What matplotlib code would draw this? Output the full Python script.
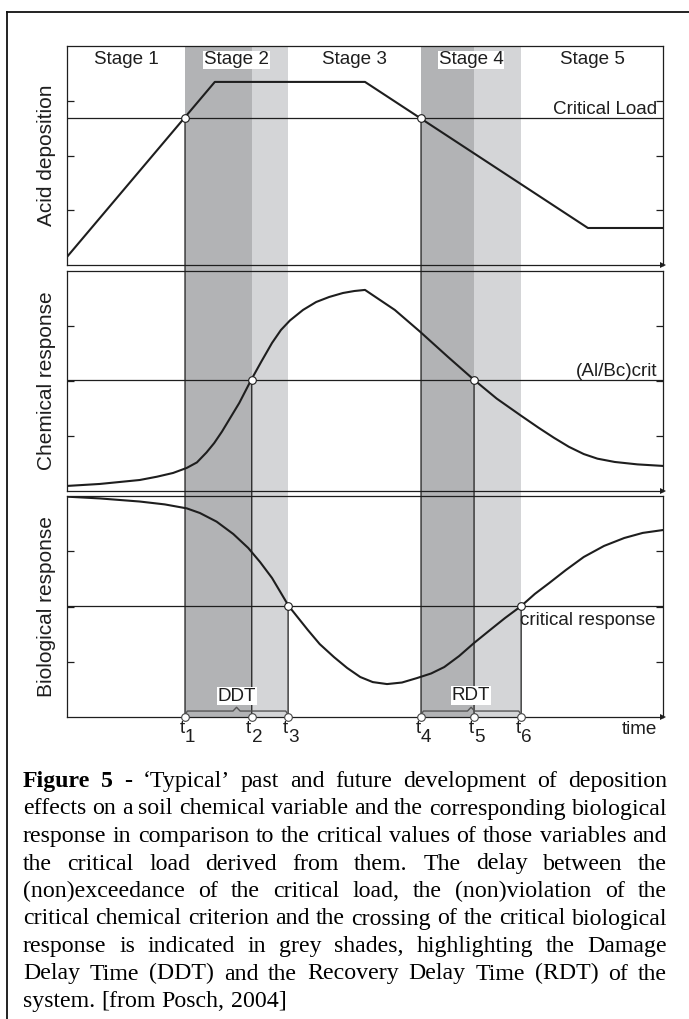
import matplotlib
matplotlib.use("Agg")
import matplotlib.pyplot as plt
from matplotlib.patches import ConnectionPatch
from matplotlib.lines import Line2D

# ---------------- data (time axis 0..100, each panel value axis 0..100) -------------
time_dep = [0, 24.8, 50.0, 87.4, 100]
deposition = [3.7, 83.6, 83.6, 16.9, 16.9]
critical_load = 67.1

time_chem = [0, 5.5, 12.2, 15.1, 17.8, 20.1, 21.8, 23.4, 24.7, 26.0, 28.9, 30.9,
             32.6, 34.4, 35.9, 37.4, 39.6, 41.8, 44.0, 46.3, 48.2, 50.0, 55.0,
             59.2, 63.9, 68.3, 72.1, 76.2, 79.1, 81.7, 84.2, 86.7, 89.0, 91.9,
             95.7, 100]
chem = [2.3, 3.2, 5.0, 6.5, 8.2, 10.5, 13.0, 17.5, 21.8, 27.0, 40.0, 50.5,
        58.8, 67.3, 73.2, 77.5, 82.3, 85.9, 88.2, 90.0, 90.9, 91.4, 82.3,
        72.5, 61.0, 50.5, 42.0, 34.2, 28.8, 24.2, 20.1, 16.8, 14.7, 13.2,
        12.1, 11.4]
chem_crit = 50.5

time_bio = [0, 5.5, 12.2, 16.4, 20.1, 22.3, 25.1, 27.9, 30.4, 32.4, 34.4, 37.2,
            40.4, 42.4, 44.8, 47.0, 49.2, 51.3, 53.7, 56.2, 58.7, 61.1, 63.3,
            65.8, 68.3, 71.0, 73.5, 76.2, 78.5, 80.9, 83.7, 86.7, 90.1, 93.5,
            96.6, 100]
bio = [99.7, 98.9, 97.5, 96.2, 94.4, 92.3, 88.4, 82.8, 76.5, 70.1, 62.9, 50.2,
       39.4, 33.0, 27.1, 22.2, 18.1, 15.8, 14.9, 15.6, 17.6, 19.7, 22.6,
       27.6, 33.5, 39.4, 44.8, 50.2, 55.7, 60.6, 66.5, 72.4, 77.4, 81.0,
       83.3, 84.6]
bio_crit = 50.2

t_marks = [19.8, 31.0, 37.1, 59.4, 68.3, 76.2]
t_subs = ["1", "2", "3", "4", "5", "6"]
stage_labels = ["Stage 1", "Stage 2", "Stage 3", "Stage 4", "Stage 5"]
ylabels = ["Acid deposition", "Chemical response", "Biological response"]
value_ticks = [25, 50, 75]

caption_lines = [
    "Figure 5 - \u2018Typical\u2019 past and future development of deposition",
    "effects on a soil chemical variable and the corresponding biological",
    "response in comparison to the critical values of those variables and",
    "the critical load derived from them. The delay between the",
    "(non)exceedance of the critical load, the (non)violation of the",
    "critical chemical criterion and the crossing of the critical biological",
    "response is indicated in grey shades, highlighting the Damage",
    "Delay Time (DDT) and the Recovery Delay Time (RDT) of the",
    "system. [from Posch, 2004]",
]

# ---------------- styling ----------------
plt.rcParams["font.family"] = ["Liberation Sans", "DejaVu Sans"]
INK = "#1e1e1e"
DARK = "#b2b3b5"
LIGHT = "#d4d5d7"
SANS_FS = 13.6
YLAB_FS = 15.0

W, H = 689, 1019
fig = plt.figure(figsize=(W / 100, H / 100), dpi=100)


def fx(px):
    return px / W


def fy(py):
    return 1 - py / H


PL, PR = 67, 663


def panel(top, bottom):
    ax = fig.add_axes([fx(PL), fy(bottom), (PR - PL) / W, (bottom - top) / H], zorder=1)
    ax.set_xlim(0, 100)
    ax.set_ylim(0, 100)
    ax.set_facecolor("none")
    ax.set_xticks([])
    ax.set_yticks(value_ticks)
    ax.set_yticklabels([])
    ax.tick_params(axis="y", direction="in", left=True, right=True, length=5,
                   width=0.9, color=INK)
    for s in ax.spines.values():
        s.set_linewidth(0.9)
        s.set_color(INK)
    ax.plot([1], [0], marker=">", transform=ax.transAxes, clip_on=False,
            ms=5, color=INK, mew=0)
    return ax


ax1 = panel(46, 265)
ax2 = panel(271, 491)
ax3 = panel(496, 717)

# background axes for the grey bands spanning all panels
bg = fig.add_axes([fx(PL), fy(717), (PR - PL) / W, (717 - 46) / H], zorder=0)
bg.set_xlim(0, 100)
bg.set_ylim(0, 1)
bg.axis("off")
t1, t2, t3, t4, t5, t6 = t_marks
bg.axvspan(t1, t2, color=DARK, lw=0)
bg.axvspan(t2, t3, color=LIGHT, lw=0)
bg.axvspan(t4, t5, color=DARK, lw=0)
bg.axvspan(t5, t6, color=LIGHT, lw=0)

# curves and critical levels
ax1.plot(time_dep, deposition, color=INK, lw=1.5, zorder=3, solid_joinstyle="round")
ax1.axhline(critical_load, color=INK, lw=0.9, zorder=2)
ax2.plot(time_chem, chem, color=INK, lw=1.5, zorder=3, solid_joinstyle="round")
ax2.axhline(chem_crit, color=INK, lw=0.9, zorder=2)
ax3.plot(time_bio, bio, color=INK, lw=1.5, zorder=3, solid_joinstyle="round")
ax3.axhline(bio_crit, color=INK, lw=0.9, zorder=2)

# vertical drop lines from crossings to the time axis
crossings = [(ax1, t1, critical_load), (ax1, t4, critical_load),
             (ax2, t2, chem_crit), (ax2, t5, chem_crit),
             (ax3, t3, bio_crit), (ax3, t6, bio_crit)]
for ax, t, lev in crossings:
    cp = ConnectionPatch(xyA=(t, lev), coordsA=ax.transData, xyB=(t, 0),
                         coordsB=ax3.transData, color=INK, lw=0.9, zorder=0.5)
    fig.add_artist(cp)
    ax.plot([t], [lev], "o", ms=5.5, mfc="white", mec=INK, mew=0.8, zorder=5,
            clip_on=False)

# circles on the time axis
ax3.plot(t_marks, [0] * len(t_marks), "o", ms=5.5, mfc="white", mec="#444444",
         mew=0.8, zorder=5, clip_on=False)


# braces DDT / RDT
def brace(ax, a, b):
    m = (a + b) / 2
    xs = [a, a + 0.4, m - 0.6, m, m + 0.6, b - 0.4, b]
    ys = [1.0, 2.7, 2.7, 4.4, 2.7, 2.7, 1.0]
    ax.plot(xs, ys, color="#555555", lw=1.0, zorder=4, clip_on=False)
    return m


m1 = brace(ax3, t1, t3)
m2 = brace(ax3, t4, t6)
box = dict(facecolor="white", edgecolor="none", pad=0.6)
ax3.text(m1, 7.4, "DDT", ha="center", va="baseline", fontsize=SANS_FS, color=INK,
         bbox=box, zorder=6)
ax3.text(m2, 7.6, "RDT", ha="center", va="baseline", fontsize=SANS_FS, color=INK,
         bbox=box, zorder=6)

# stage labels
stage_bounds = [0, t1, t3, t4, t6, 100]
for i, lab in enumerate(stage_labels):
    c = (stage_bounds[i] + stage_bounds[i + 1]) / 2
    ax1.text(c, 91.6, lab, ha="center", va="baseline", fontsize=SANS_FS, color=INK,
             bbox=dict(facecolor="white", edgecolor="none", pad=0.5), zorder=6)

# critical level labels
ax1.text(99.0, 68.9, "Critical Load", ha="right", va="baseline", fontsize=SANS_FS,
         color=INK, zorder=6)
ax2.text(99.1, 52.3, "(Al/Bc)crit", ha="right", va="baseline", fontsize=SANS_FS,
         color=INK, zorder=6)
ax3.text(t6 - 0.2, 41.6, "critical response", ha="left", va="baseline",
         fontsize=SANS_FS, color=INK, zorder=6)

# y labels
for ax, lab in zip([ax1, ax2, ax3], ylabels):
    ax.text(-0.034, 0.5, lab, rotation=90, ha="center", va="center",
            fontsize=YLAB_FS, color=INK, transform=ax.transAxes)

# time tick labels t1..t6 and "time"
for t, s in zip(t_marks, t_subs):
    ax3.annotate("t", xy=(t, 0), xycoords="data", xytext=(-0.4, -11.5),
                 textcoords="offset points", ha="right", va="baseline",
                 fontsize=SANS_FS, color=INK, annotation_clip=False)
    ax3.annotate(s, xy=(t, 0), xycoords="data", xytext=(0.0, -18.0),
                 textcoords="offset points", ha="left", va="baseline",
                 fontsize=SANS_FS, color=INK, annotation_clip=False)
ax3.text(0.99, -0.077, "time", ha="right", va="baseline", fontsize=SANS_FS,
         color=INK, transform=ax3.transAxes)

# outer frame (left and top edges visible)
fig.add_artist(Line2D([fx(7), fx(7)], [fy(12), 0], transform=fig.transFigure,
                      color="#111111", lw=1.3))
fig.add_artist(Line2D([fx(7), 1], [fy(12), fy(12)], transform=fig.transFigure,
                      color="#111111", lw=1.3))

# caption, justified; font size chosen so the fullest lines fit the measure
fig.canvas.draw()
r = fig.canvas.get_renderer()
XL, XR = 23, 667
base0, step = 787, 27.5
SERIF = "Liberation Serif"


def width_of(s, size, weight="normal"):
    t = fig.text(0, 0, s, family=SERIF, fontsize=size, weight=weight)
    w = t.get_window_extent(r).width
    t.remove()
    return w


ref_w = max(width_of(caption_lines[k], 10) for k in (1, 2, 5))
CAP_FS = 10 * (XR - XL) / ref_w
space_w = width_of("a a", CAP_FS) - width_of("aa", CAP_FS)

for i, line in enumerate(caption_lines):
    words = line.split(" ")
    texts = []
    for j, w in enumerate(words):
        bold = (i == 0 and j < 3)
        t = fig.text(0, fy(base0 + i * step), w, family=SERIF,
                     fontsize=CAP_FS, weight="bold" if bold else "normal",
                     va="baseline", ha="left", color="black")
        texts.append(t)
    widths = [t.get_window_extent(r).width for t in texts]
    if i < len(caption_lines) - 1:
        gap = (XR - XL - sum(widths)) / (len(words) - 1)
    else:
        gap = space_w
    x = XL
    for t, wd in zip(texts, widths):
        t.set_x(fx(x))
        x += wd + gap

fig.savefig("out.png", dpi=100)
